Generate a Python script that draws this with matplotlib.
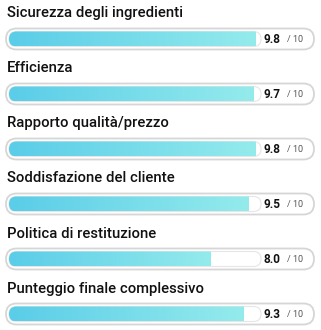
import numpy as np
import matplotlib
matplotlib.use("Agg")
import matplotlib.pyplot as plt
from matplotlib.patches import FancyBboxPatch
from matplotlib.colors import LinearSegmentedColormap

labels = ["Sicurezza degli ingredienti", "Efficienza", "Rapporto qualità/prezzo",
          "Soddisfazione del cliente", "Politica di restituzione",
          "Punteggio finale complessivo"]
scores = [9.8, 9.7, 9.8, 9.5, 8.0, 9.3]
max_score = 10

W, H = 321, 330
fig = plt.figure(figsize=(W / 100, H / 100), dpi=100)
ax = fig.add_axes([0, 0, 1, 1])
ax.set_xlim(0, W)
ax.set_ylim(H, 0)
ax.axis("off")

cmap = LinearSegmentedColormap.from_list("bar", ["#5acde8", "#94ebec"])
grad = np.linspace(0, 1, 256).reshape(1, -1)

track_x0, track_x1 = 9, 261
track_w = track_x1 - track_x0

for i, (lab, val) in enumerate(zip(labels, scores)):
    yc = 39 + 55 * i
    ax.text(7, yc - 25.5, lab, fontsize=10.7, family="Roboto", fontweight="medium",
            color="#111111", va="center", ha="left")
    # outer pill
    outer = FancyBboxPatch((6, yc - 10.5), 308, 21, boxstyle="round,pad=0,rounding_size=10.5",
                           fc="white", ec="#d6d6d6", lw=1.3)
    ax.add_patch(outer)
    # inner track
    track = FancyBboxPatch((track_x0, yc - 7.5), track_w, 15,
                           boxstyle="round,pad=0,rounding_size=7.5",
                           fc="white", ec="#e6e6e6", lw=0.8)
    ax.add_patch(track)
    # gradient fill clipped to rounded track, cut at value
    fill_w = track_w * val / max_score
    clip = FancyBboxPatch((track_x0, yc - 7.5), track_w, 15,
                          boxstyle="round,pad=0,rounding_size=7.5",
                          fc="none", ec="none")
    ax.add_patch(clip)
    im = ax.imshow(grad, cmap=cmap, aspect="auto",
                   extent=(track_x0, track_x0 + fill_w, yc + 7.5, yc - 7.5),
                   interpolation="bilinear", zorder=2)
    im.set_clip_path(clip)
    ax.text(280, yc + 0.5, f"{val:.1f}", fontsize=8.5, family="Roboto", fontweight="bold",
            color="#111111", va="center", ha="right", zorder=3)
    ax.text(287, yc + 0.8, "/ 10", fontsize=6.5, family="Roboto",
            color="#555555", va="center", ha="left", zorder=3)

ax.set_xlim(0, W)
ax.set_ylim(H, 0)
fig.savefig("out.png", dpi=100)
